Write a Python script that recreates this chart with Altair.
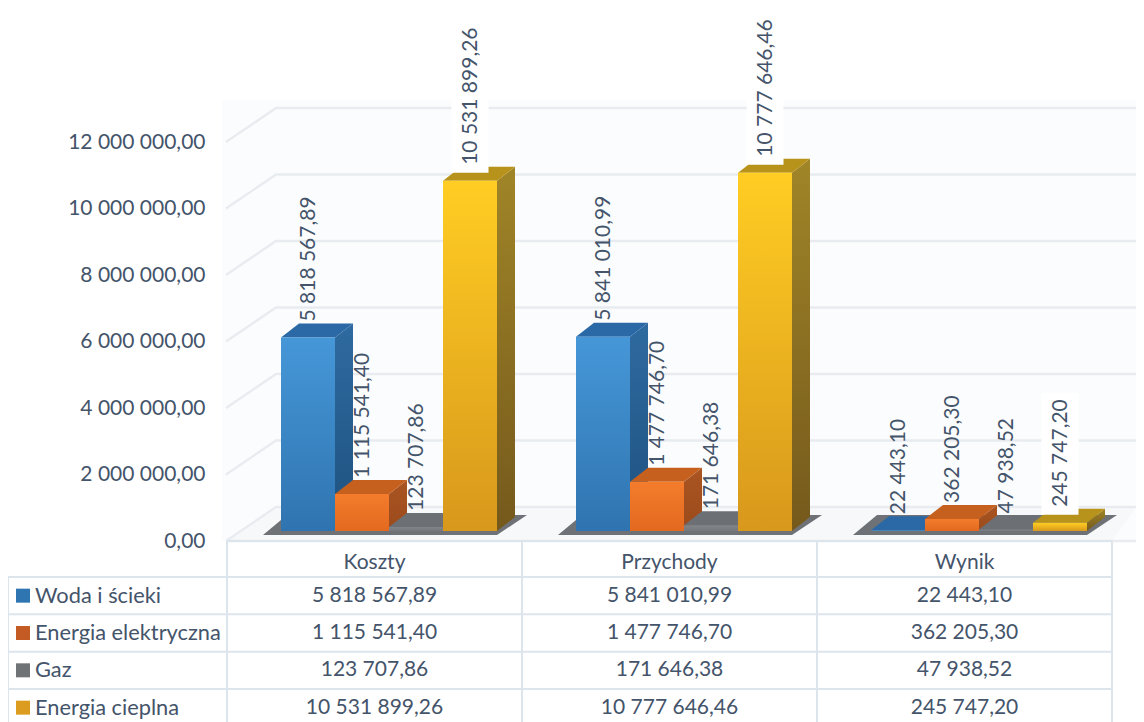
import altair as alt
import pandas as pd

categories = ["Koszty", "Przychody", "Wynik"]
series = ["Woda i ścieki", "Energia elektryczna", "Gaz", "Energia cieplna"]
values = {
    "Woda i ścieki": [5818567.89, 5841010.99, 22443.10],
    "Energia elektryczna": [1115541.40, 1477746.70, 362205.30],
    "Gaz": [123707.86, 171646.38, 47938.52],
    "Energia cieplna": [10531899.26, 10777646.46, 245747.20],
}
axis_ticks = [0, 2000000, 4000000, 6000000, 8000000, 10000000, 12000000]

swatches = ["#2e75b1", "#c55b24", "#6f7375", "#dc9c20"]
front_stops = [("#4697d8", "#2f74b0"), ("#f47c2c", "#e2691f"), ("#82868a", "#74787c"), ("#ffcd23", "#d8981c")]
side_stops = [("#2f6aa0", "#1d5280"), ("#aa5522", "#9c4a1c"), ("#5e6266", "#55585c"), ("#a08528", "#75591c")]
top_colors = ["#2a69a6", "#c5601f", "#6c7074", "#b8931c"]

TXT = "#44546a"
LINE = "#dce4ec"
FONT = "Lato"
FS = 21

W, H = 1128, 714
PX_G = 295.0      # pixels of one category
PX_M = 33.25      # pixels of one million
X0 = 227.0        # page x of first column
Y0 = 541.0        # page y of value zero
ROW = 37.33       # table row height
R0 = 577.0        # page y of first body row


def gx(px):
    return (px - X0) / PX_G


def dv(px):
    return px / PX_M * 1e6


def rw(py):
    return (py - R0) / ROW


def fmt(v):
    return f"{v:,.2f}".replace(",", " ").replace(".", ",")


x_scale = alt.Scale(domain=[gx(8), gx(8 + W)], nice=False, zero=False)
y_scale = alt.Scale(domain=[dv(Y0 - (8 + H)), dv(Y0 - 8)], nice=False, zero=False)
r_scale = alt.Scale(domain=[rw(8 + H), rw(8)], nice=False, zero=False)

X = alt.X("x:Q", scale=x_scale, axis=None)
X2 = alt.X2("x2:Q")
Y = alt.Y("y:Q", scale=y_scale, axis=None)
Y2 = alt.Y2("y2:Q")
R = alt.Y("y:Q", scale=r_scale, axis=None)

layers = []

# back wall carrying the value axis
wall = pd.DataFrame({"x": [gx(222)], "x2": [gx(8 + W)], "y": [dv(Y0 - 100)], "y2": [0.0]})
layers.append(
    alt.Chart(wall).mark_rect(color="#fbfcfd").encode(
        x=X, x2=X2,
        y=alt.Y("y:Q", scale=alt.Scale(domain=y_scale.domain, nice=False, zero=False),
                axis=alt.Axis(values=axis_ticks, domain=False, ticks=False, grid=False, title=None,
                              offset=-197, labelPadding=0, labelFont=FONT, labelFontSize=FS,
                              labelColor=TXT, labelOverlap=False, labelFlush=False,
                              labelExpr="join(split(format(datum.value,',d'),','),' ')+',00'")),
        y2=Y2,
    )
)

# floor
floor = pd.DataFrame({
    "x": [gx(226), gx(276)], "x2": [gx(1112), gx(1136)],
    "y": [0.0, dv(34)],
})
layers.append(alt.Chart(floor).mark_area(orient="horizontal", color="#f7f8fa").encode(
    x=X, x2=X2, y=Y))

# gridlines: front-left corner, back-left corner, far right
grid_rows = []
for v in axis_ticks:
    for px, off in [(226, 0), (276, 34), (1136, 34)]:
        grid_rows.append({"x": gx(px), "y": v + dv(off), "k": v})
grid = pd.DataFrame(grid_rows)
layers.append(alt.Chart(grid).mark_line(color="#e8ebf0", strokeWidth=2.4).encode(
    x=X, y=Y, detail="k:N"))
front = pd.DataFrame({"x": [gx(226)], "x2": [gx(1136)], "y": [0.0]})
layers.append(alt.Chart(front).mark_rule(color="#e8ebf0", strokeWidth=2.4).encode(x=X, x2=X2, y=Y))

# shadows on the floor
shadow_rows = []
for i in range(len(categories)):
    shadow_rows.append({"x": i + gx(X0 + 36), "x2": i + gx(X0 + 270), "y": dv(6), "c": i})
    shadow_rows.append({"x": i + gx(X0 + 60), "x2": i + gx(X0 + 300), "y": dv(26), "c": i})
shadow = pd.DataFrame(shadow_rows)
layers.append(alt.Chart(shadow).mark_area(orient="horizontal", color="#6e7276").encode(
    x=X, x2=X2, y=Y, detail="c:N"))

# bars in series order: side, top, front
BW = 54 / PX_G
DX = 18 / PX_G
DY = dv(14)
BASE = dv(10)
START = 54 / PX_G


def grad(a, b):
    return alt.Gradient(gradient="linear", x1=0, x2=0, y1=0, y2=1,
                        stops=[alt.GradientStop(offset=0, color=a), alt.GradientStop(offset=1, color=b)])


for s, name in enumerate(series):
    side_r, top_r, front_r = [], [], []
    for i, v in enumerate(values[name]):
        xl = i + START + s * BW
        xr = xl + BW
        top = BASE + v
        side_r += [{"x": xr, "y": top, "y2": BASE, "c": i},
                   {"x": xr + DX, "y": top + DY, "y2": BASE + DY, "c": i}]
        top_r += [{"x": xl, "x2": xr, "y": top, "c": i},
                  {"x": xl + DX, "x2": xr + DX, "y": top + DY, "c": i}]
        front_r.append({"x": xl, "x2": xr, "y": top, "y2": BASE})
    layers.append(alt.Chart(pd.DataFrame(side_r)).mark_area(color=grad(*side_stops[s])).encode(
        x=X, y=Y, y2=Y2, detail="c:N"))
    layers.append(alt.Chart(pd.DataFrame(top_r)).mark_area(orient="horizontal", color=top_colors[s]).encode(
        x=X, x2=X2, y=Y, detail="c:N"))
    layers.append(alt.Chart(pd.DataFrame(front_r)).mark_rect(color=grad(*front_stops[s])).encode(
        x=X, x2=X2, y=Y, y2=Y2))

# value labels, with a white plate behind the last series
label_rows, plate_rows = [], []
for s, name in enumerate(series):
    for i, v in enumerate(values[name]):
        cx = i + START + (s + 0.5) * BW
        y = BASE + v + DY + dv(2)
        t = fmt(v)
        label_rows.append({"x": cx, "y": y, "t": t})
        if s == 3:
            plate_rows.append({"x": cx - 18.5 / PX_G, "x2": cx + 18.5 / PX_G,
                               "y": y - dv(8), "y2": y + dv(10.4 * len(t) + 10)})
layers.append(alt.Chart(pd.DataFrame(plate_rows)).mark_rect(color="#ffffff").encode(x=X, x2=X2, y=Y, y2=Y2))
layers.append(alt.Chart(pd.DataFrame(label_rows)).mark_text(
    angle=270, align="left", baseline="middle", dy=1, font=FONT, fontSize=FS, color=TXT).encode(
    x=X, y=Y, text="t:N"))

# data table
col_x = [gx(8), 0.0, 1.0, 2.0, 3.0]
r_top = rw(541)
r_bot = rw(8 + H)
h_rows = [{"x": 0.0, "x2": 3.0, "y": r_top}] + [{"x": gx(8), "x2": 3.0, "y": float(k)} for k in range(4)]
v_rows = [{"x": gx(8), "y": 0.0, "y2": r_bot}] + [{"x": c, "y": r_top, "y2": r_bot} for c in col_x[1:]]
layers.append(alt.Chart(pd.DataFrame(h_rows)).mark_rule(color=LINE, strokeWidth=2).encode(x=X, x2=X2, y=R))
layers.append(alt.Chart(pd.DataFrame(v_rows)).mark_rule(color=LINE, strokeWidth=2).encode(x=X, y=R, y2=Y2))

cell_rows = [{"x": i + 0.5, "y": rw(563), "t": c} for i, c in enumerate(categories)]
for s, name in enumerate(series):
    for i, v in enumerate(values[name]):
        cell_rows.append({"x": i + 0.5, "y": s + 0.5, "t": fmt(v)})
layers.append(alt.Chart(pd.DataFrame(cell_rows)).mark_text(
    align="center", baseline="middle", font=FONT, fontSize=FS, color=TXT).encode(x=X, y=R, text="t:N"))

name_rows = [{"x": gx(35), "y": s + 0.5, "t": n} for s, n in enumerate(series)]
layers.append(alt.Chart(pd.DataFrame(name_rows)).mark_text(
    align="left", baseline="middle", font=FONT, fontSize=21.8, color=TXT).encode(x=X, y=R, text="t:N"))

swatch_df = pd.DataFrame([{"x": gx(23), "y": s + 0.5, "c": n} for s, n in enumerate(series)])
layers.append(alt.Chart(swatch_df).mark_square(size=196, opacity=1).encode(
    x=X, y=R,
    color=alt.Color("c:N", scale=alt.Scale(domain=series, range=swatches), legend=None)))

chart = alt.layer(*layers).resolve_scale(y="independent").properties(
    width=W, height=H, padding=0,
    autosize=alt.AutoSizeParams(type="none"),
).configure_view(stroke=None)

chart.save("out.html", embed_options={"renderer": "svg", "actions": False})
